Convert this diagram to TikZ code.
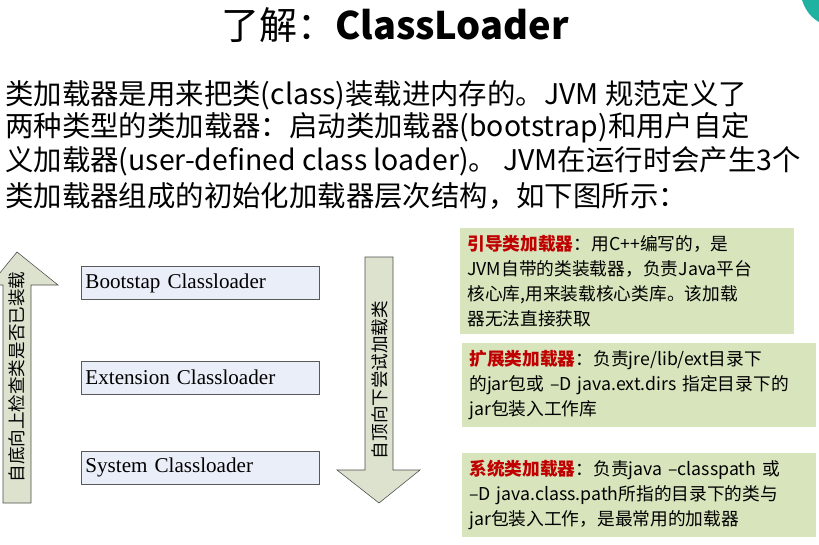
\documentclass[tikz,border=0pt]{standalone}
\usepackage{fontspec}
\setmainfont{Liberation Serif}
\newfontfamily\cjk{Noto Sans CJK SC}
\usetikzlibrary{positioning}
\definecolor{arrowfill}{RGB}{221,226,207}
\definecolor{boxfill}{RGB}{234,238,248}
\definecolor{notefill}{RGB}{215,228,188}
\definecolor{notered}{RGB}{192,0,0}
\definecolor{corner}{RGB}{32,178,160}
\tikzset{
  loader/.style={draw=gray!70!black,fill=boxfill,minimum width=5.93cm,minimum height=0.82cm,inner sep=3pt,
    font=\fontsize{15}{17}\selectfont,text width=5.75cm,align=left},
  note/.style={fill=notefill,anchor=north west,inner sep=5pt,align=left,
    font=\cjk\fontsize{12.6}{17.8}\selectfont},
  para/.style={anchor=west,inner sep=0pt,font=\cjk\fontsize{20.2}{22}\selectfont},
  bigarrow/.style={draw=gray!60!black,fill=arrowfill},
  vtext/.style={rotate=90,font=\cjk\fontsize{12.5}{14}\selectfont}
}
\begin{document}
\begin{tikzpicture}[x=0.025cm,y=-0.025cm]
\useasboundingbox (0,0) rectangle (819,544);
% corner decoration
\fill[corner] (802,0) .. controls (806,12) and (812,18) .. (819,22) -- (819,0) -- cycle;

% title and paragraph
\node[font=\cjk\fontsize{27}{30}\selectfont] (title) at (395,25) {了解：\textbf{ClassLoader}};
\node[para] (line1) at (5,95) {类加载器是用来把类(class)装载进内存的。JVM 规范定义了};
\node[para] (line2) at (5,128) {两种类型的类加载器：启动类加载器(bootstrap)和用户自定};
\node[para] (line3) at (5,161) {义加载器(user-defined class loader)。 JVM在运行时会产生3个};
\node[para] (line4) at (5,196) {类加载器组成的初始化加载器层次结构，如下图所示：};

% arrows
\draw[bigarrow] (3,503) -- (3,285) -- (-10,285) -- (17,252) -- (58,285) -- (31,285) -- (31,503) -- cycle;
\node[vtext] (up) at (17,377) {自底向上检查类是否已装载};
\draw[bigarrow] (365,257) -- (393,257) -- (393,470) -- (420,470) -- (379,503) -- (337,470) -- (365,470) -- cycle;
\node[vtext] (down) at (380,380) {自顶向下尝试加载类};

% loaders
\node[loader] (boot) at (200.5,283) {Bootstap Classloader};
\node[loader] (ext) at (200.5,377.5) {Extension Classloader};
\node[loader] (sys) at (200.5,467.5) {System Classloader};

% notes
\node[note,text width=8cm,minimum height=2.55cm] (bootnote) at (460,228)
  {\textcolor{notered}{\textbf{引导类加载器}}：用C++编写的，是\\JVM自带的类装载器，负责Java平台\\核心库,用来装载核心类库。该加载\\器无法直接获取};
\node[note,text width=8.48cm,minimum height=1.98cm] (extnote) at (462,343)
  {\textcolor{notered}{\textbf{扩展类加载器}}：负责jre/lib/ext目录下\\的jar包或 –D java.ext.dirs 指定目录下的\\jar包装入工作库};
\node[note,text width=8.48cm,minimum height=2cm] (sysnote) at (462,453)
  {\textcolor{notered}{\textbf{系统类加载器}}：负责java –classpath 或\\–D java.class.path所指的目录下的类与\\jar包装入工作，是最常用的加载器};
\end{tikzpicture}
\end{document}
